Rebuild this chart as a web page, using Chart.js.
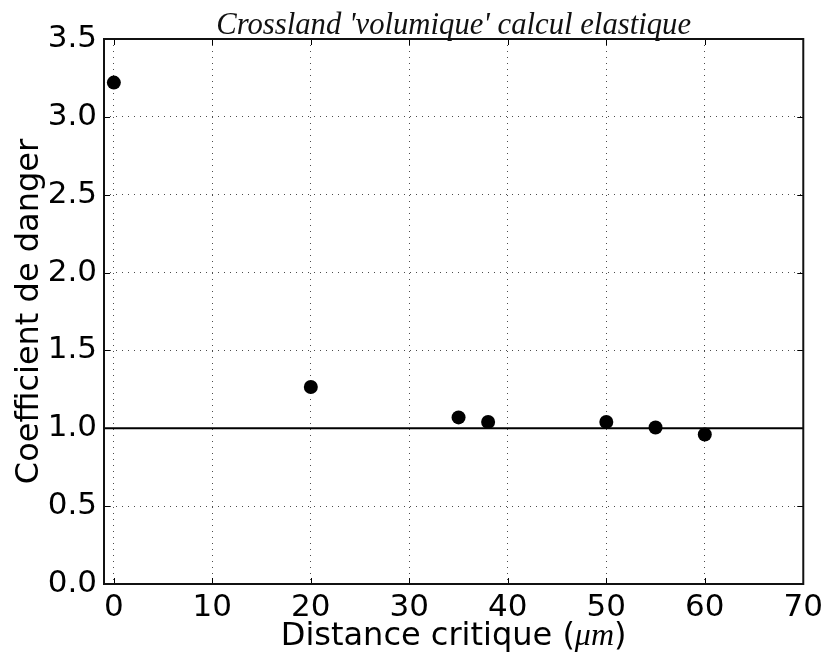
<!DOCTYPE html>
<html><head><meta charset="utf-8">
<script src="https://cdn.jsdelivr.net/npm/chart.js@4.4.1/dist/chart.umd.min.js"></script>
<style>html,body{margin:0;padding:0;background:#fff}</style>
</head><body>
<canvas id="c" width="828" height="652"></canvas>
<script>
const distances = [0, 20, 35, 38, 50, 55, 60];
const coefficients = [3.22, 1.265, 1.07, 1.04, 1.04, 1.005, 0.96];
const xTicks = [0, 10, 20, 30, 40, 50, 60, 70];
const yTicks = [0, 0.5, 1.0, 1.5, 2.0, 2.5, 3.0, 3.5];
const xRange = [-1, 70];
const yRange = [0, 3.5];
const thresholdValue = 1.0;
const titleText = "Crossland 'volumique' calcul elastique";
const xLabelParts = ["Distance critique (", "\u03bcm", ")"];
const yLabelText = "Coefficient de danger";

function fitFont(ctx, text, style, family, target) {
  ctx.font = style + ' 100px ' + family;
  const w = ctx.measureText(text).width;
  return 100 * target / w;
}

const decor = {
  id: 'decor',
  afterDraw(chart) {
    const ctx = chart.ctx, a = chart.chartArea;
    const xs = chart.scales.x, ys = chart.scales.y;
    ctx.save();
    ctx.strokeStyle = '#000';
    ctx.lineWidth = 1;
    const tl = 6;
    xTicks.forEach(v => {
      const px = Math.round(xs.getPixelForValue(v)) + 0.5;
      ctx.beginPath();
      ctx.moveTo(px, a.bottom); ctx.lineTo(px, a.bottom - tl);
      ctx.moveTo(px, a.top); ctx.lineTo(px, a.top + tl);
      ctx.stroke();
    });
    yTicks.forEach(v => {
      const py = Math.round(ys.getPixelForValue(v)) + 0.5;
      ctx.beginPath();
      ctx.moveTo(a.left, py); ctx.lineTo(a.left + tl, py);
      ctx.moveTo(a.right, py); ctx.lineTo(a.right - tl, py);
      ctx.stroke();
    });
    ctx.strokeStyle = '#111';
    ctx.lineWidth = 2;
    ctx.strokeRect(a.left, a.top, a.right - a.left, a.bottom - a.top);
    const cx = (a.left + a.right) / 2;
    const tFam = '"Liberation Serif", "DejaVu Serif", serif';
    const ts = fitFont(ctx, titleText, 'italic', tFam, 475);
    ctx.font = 'italic ' + ts + 'px ' + tFam;
    ctx.fillStyle = '#111';
    ctx.textAlign = 'center';
    ctx.textBaseline = 'alphabetic';
    ctx.fillText(titleText, cx, 34);
    const sFam = '"DejaVu Sans", sans-serif';
    const fs = 32;
    const fonts = ['normal ' + fs + 'px ' + sFam, 'italic ' + fs + 'px ' + tFam, 'normal ' + fs + 'px ' + sFam];
    ctx.fillStyle = '#000';
    let widths = xLabelParts.map((t, i) => { ctx.font = fonts[i]; return ctx.measureText(t).width; });
    const total = widths.reduce((p, q) => p + q, 0);
    let x0 = cx - total / 2;
    ctx.textAlign = 'left';
    xLabelParts.forEach((t, i) => { ctx.font = fonts[i]; ctx.fillText(t, x0, 645); x0 += widths[i]; });
    ctx.font = 'normal ' + fs + 'px ' + sFam;
    ctx.translate(38, (a.top + a.bottom) / 2);
    ctx.rotate(-Math.PI / 2);
    ctx.textAlign = 'center';
    ctx.fillText(yLabelText, 0, 0);
    ctx.restore();
  }
};

const tickFont = { family: 'DejaVu Sans', size: 31 };
const gridCommon = { color: 'rgba(0,0,0,0.7)', lineWidth: 1, drawTicks: false };

new Chart(document.getElementById('c'), {
  type: 'scatter',
  data: {
    datasets: [
      {
        data: distances.map((x, i) => ({ x: x, y: coefficients[i] })),
        backgroundColor: '#000', borderColor: '#000',
        pointRadius: 7, pointBorderWidth: 0, showLine: false, order: 1
      },
      {
        type: 'line',
        data: [{ x: xRange[0], y: thresholdValue }, { x: xRange[1], y: thresholdValue }],
        borderColor: '#000', borderWidth: 2, pointRadius: 0, fill: false, order: 2
      }
    ]
  },
  options: {
    responsive: false,
    animation: false,
    devicePixelRatio: 1,
    layout: { padding: { top: 39, right: 20, left: 0, bottom: 0 } },
    plugins: { legend: { display: false }, tooltip: { enabled: false }, title: { display: false } },
    scales: {
      x: {
        type: 'linear', min: xRange[0], max: xRange[1],
        afterBuildTicks: s => { s.ticks = xTicks.map(v => ({ value: v })); },
        afterFit: s => { s.height = 68; },
        grid: gridCommon,
        border: { display: false, dash: [1, 5] },
        ticks: { font: tickFont, color: '#000', padding: 5, maxRotation: 0, callback: v => String(v) }
      },
      y: {
        type: 'linear', min: yRange[0], max: yRange[1],
        afterBuildTicks: s => { s.ticks = yTicks.map(v => ({ value: v })); },
        afterFit: s => { s.width = 104; },
        grid: gridCommon,
        border: { display: false, dash: [1, 5] },
        ticks: { font: tickFont, color: '#000', padding: 7, callback: v => Number(v).toFixed(1) }
      }
    }
  },
  plugins: [decor]
});
</script>
</body></html>
